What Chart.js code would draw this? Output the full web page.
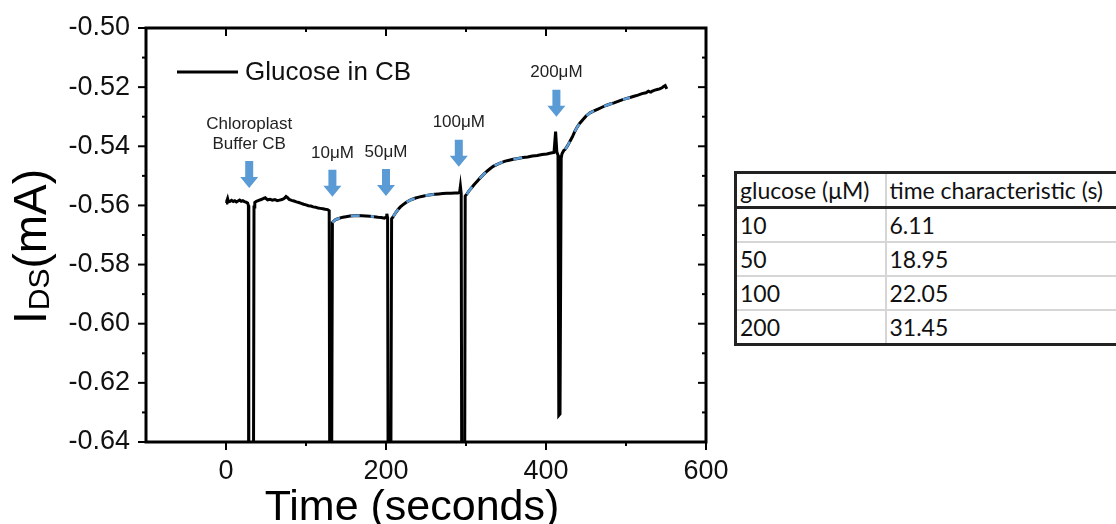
<!DOCTYPE html>
<html>
<head>
<meta charset="utf-8">
<script src="https://cdn.jsdelivr.net/npm/chart.js@4/dist/chart.umd.min.js"></script>
<style>
body { margin: 0; width: 1116px; height: 524px; overflow: hidden; background: #fff; position: relative; }
#wrap { position: absolute; left: 0; top: 0; width: 730px; height: 524px; }
#tbl { position: absolute; left: 734px; top: 171px; width: 480px; border-collapse: collapse; table-layout: fixed;
       font-family: Lato, "Open Sans", sans-serif; font-size: 23px; color: #111; border: 3px solid #222; }
#tbl th, #tbl td { height: 32px; padding: 0 3px; text-align: left; font-weight: normal;
                   border: 2px solid #d6d6d6; white-space: nowrap; }
#tbl th { border-bottom: 3px solid #222; border-top: 3px solid #222; }
#tbl tr:last-child td { border-bottom: 3px solid #222; }
#tbl td:first-child, #tbl th:first-child { border-left: 3px solid #222; }
</style>
</head>
<body>
<div id="wrap"><canvas id="ids" width="730" height="524"></canvas></div>
<table id="tbl">
  <colgroup><col style="width:150px"><col style="width:330px"></colgroup>
  <thead><tr><th>glucose (μM)</th><th>time characteristic (s)</th></tr></thead>
  <tbody id="tbody"></tbody>
</table>
<script>
// drain current trace, time in seconds / I_DS in mA
const timeSec = [
  0, 1, 2, 3, 5, 7, 9, 11, 13, 15, 17, 19, 21, 23, 25, 27, 28, 28.5, 34, 35,
  36, 38, 41, 44, 47, 49, 52, 55, 58, 61, 64, 67, 70, 73, 75, 77, 79, 82, 85, 88,
  91, 94, 97, 100, 103, 106, 109, 112, 115, 118, 121, 124, 127, 129, 130, 131.5,
  133, 135, 137, 140, 143, 146, 150, 155, 160, 165, 170, 175, 180, 185, 190, 194, 198,
  200, 201, 202, 203, 205.5, 207, 209, 212, 215, 218, 221, 225, 229, 233, 237, 241,
  246, 251, 256, 261, 266, 271, 276, 281, 286, 290, 292, 293, 294, 295, 298, 299,
  301, 304, 307, 310, 314, 318, 322, 326, 330, 334, 339, 344, 349, 354, 359, 365,
  371, 377, 383, 389, 395, 401, 406, 410, 412, 413.5, 415, 416, 417.5, 419, 420,
  422, 424, 427, 430, 433, 436, 439, 442, 446, 450, 455, 460, 465, 470, 475, 480,
  485, 490, 495, 500, 505, 510, 515, 520, 525, 528, 531, 533, 536, 539, 542, 545,
  547, 549, 551
];
const currentMA = [
  -0.5592, -0.5585, -0.5577, -0.5588, -0.5586, -0.5583, -0.5587, -0.5584, -0.5588, -0.5585,
  -0.5582, -0.5586, -0.5584, -0.5587, -0.5589, -0.5592, -0.5600, -0.70, -0.70, -0.5605,
  -0.5590, -0.5586, -0.5583, -0.5580, -0.5576, -0.5574, -0.5581, -0.5579, -0.5582, -0.5580,
  -0.5584, -0.5582, -0.5580, -0.5576, -0.5570, -0.5574, -0.5580, -0.5583, -0.5585, -0.5588,
  -0.5590, -0.5593, -0.5596, -0.5598, -0.5601, -0.5602, -0.5605, -0.5606, -0.5609, -0.5610,
  -0.5611, -0.5613, -0.5614, -0.5618, -0.70, -0.70,
  -0.5658, -0.5652, -0.5648, -0.5645, -0.5642, -0.5640, -0.5638, -0.5636, -0.5635, -0.5634,
  -0.5635, -0.5636, -0.5637, -0.5638, -0.5640, -0.5641, -0.5643,
  -0.5640, -0.5628, -0.5642, -0.70, -0.70, -0.5645, -0.5638, -0.5625, -0.5614, -0.5605,
  -0.5598, -0.5590, -0.5584, -0.5579, -0.5575, -0.5572,
  -0.5569, -0.5566, -0.5564, -0.5562, -0.5561, -0.5560, -0.5559, -0.5559, -0.5558, -0.5558,
  -0.5556, -0.5535, -0.5560, -0.70, -0.70, -0.5568,
  -0.5562, -0.5550, -0.5540, -0.5530, -0.5518, -0.5506, -0.5495, -0.5485, -0.5476, -0.5468,
  -0.5461, -0.5455, -0.5450, -0.5447, -0.5444, -0.5441,
  -0.5438, -0.5436, -0.5433, -0.5431, -0.5428, -0.5426, -0.5423, -0.5421, -0.5350, -0.5418,
  -0.5430, -0.6310, -0.6305, -0.5440, -0.5425,
  -0.5415, -0.5410, -0.5398, -0.5383, -0.5368, -0.5350, -0.5335, -0.5323, -0.5310, -0.5298,
  -0.5287, -0.5280, -0.5274, -0.5268, -0.5262, -0.5257,
  -0.5253, -0.5248, -0.5243, -0.5239, -0.5235, -0.5231, -0.5227, -0.5222, -0.5219, -0.5214,
  -0.5217, -0.5213, -0.5210, -0.5208, -0.5206, -0.5202,
  -0.5198, -0.5195, -0.5206
];

// time windows covered by the exponential fits after each addition
const fitRanges = [[133, 186], [209, 266], [301, 372], [424, 508]];

// additions marked with arrows: time, current at arrow tip, label lines
const addTimes = [29, 133, 200, 291, 413];
const addTips = [-0.5541, -0.5571, -0.5568, -0.5469, -0.5300];
const addLabels = [['Chloroplast', 'Buffer CB'], ['10μM'], ['50μM'], ['100μM'], ['200μM']];

// table values
const glucoseUM = ['10', '50', '100', '200'];
const timeConst = ['6.11', '18.95', '22.05', '31.45'];

const yTicks = { min: -0.64, max: -0.50, step: 0.01 };
const xTicks = { min: -100, max: 600, step: 100 };

const BLUE = '#5b9bd5';
const FONT = '"Liberation Sans", Arial, sans-serif';

document.getElementById('tbody').innerHTML = glucoseUM
  .map((g, i) => `<tr><td>${g}</td><td>${timeConst[i]}</td></tr>`).join('');

const trace = timeSec.map((t, i) => ({ x: t, y: currentMA[i] }));
const fitSets = fitRanges.map(([a, b]) => ({
  data: trace.filter(p => p.x >= a && p.x <= b),
  borderColor: BLUE,
  borderWidth: 2.6,
  borderDash: [9, 11],
  pointRadius: 0,
  tension: 0,
  order: 0
}));

const isMajorX = v => v >= 0 && v % 200 === 0;
const isMajorY = v => Math.round(v * 100) % 2 === 0;

// frame, mirrored ticks, axis titles, legend and arrows
const decorations = {
  id: 'decorations',
  afterDraw(chart) {
    const { ctx, chartArea: a, scales: { x, y } } = chart;
    ctx.save();
    ctx.strokeStyle = '#000';
    ctx.lineCap = 'butt';

    const seg = (x1, y1, x2, y2) => { ctx.beginPath(); ctx.moveTo(x1, y1); ctx.lineTo(x2, y2); ctx.stroke(); };

    ctx.lineWidth = 2;
    x.ticks.forEach(t => {
      if (t.value <= xTicks.min) return;
      const px = x.getPixelForValue(t.value);
      const len = isMajorX(t.value) ? 8 : 4;
      seg(px, a.bottom, px, a.bottom + len);
      seg(px, a.top, px, a.top + len);
    });
    y.ticks.forEach(t => {
      const py = y.getPixelForValue(t.value);
      const len = isMajorY(t.value) ? 8 : 4;
      seg(a.left - len, py, a.left, py);
      seg(a.right - len, py, a.right, py);
    });

    ctx.lineWidth = 3;
    ctx.strokeRect(a.left, a.top, a.right - a.left, a.bottom - a.top);

    // x title
    ctx.fillStyle = '#000';
    ctx.font = `43px ${FONT}`;
    ctx.textAlign = 'center';
    ctx.textBaseline = 'alphabetic';
    ctx.fillText('Time (seconds)', (a.left + a.right) / 2 - 14, 520);

    // y title with subscript
    ctx.save();
    ctx.translate(46, (a.top + a.bottom) / 2 + 12);
    ctx.rotate(-Math.PI / 2);
    ctx.textAlign = 'left';
    ctx.font = `46px ${FONT}`;
    const wI = ctx.measureText('I').width;
    const wRest = ctx.measureText('(mA)').width;
    ctx.font = `30px ${FONT}`;
    const wDS = ctx.measureText('DS').width;
    let tx = -(wI + wDS + wRest) / 2;
    ctx.font = `46px ${FONT}`;
    ctx.fillText('I', tx, 0);
    tx += wI + 1;
    ctx.font = `30px ${FONT}`;
    ctx.fillText('DS', tx, 3);
    tx += wDS;
    ctx.font = `46px ${FONT}`;
    ctx.fillText('(mA)', tx, 0);
    ctx.restore();

    // legend
    ctx.lineWidth = 3;
    seg(177, 72, 238, 72);
    ctx.font = `26px ${FONT}`;
    ctx.textAlign = 'left';
    ctx.textBaseline = 'middle';
    ctx.fillStyle = '#111';
    ctx.fillText(chart.data.datasets[fitSets.length].label, 245, 73);

    // arrows at each addition
    addTimes.forEach((t, i) => {
      const ax = x.getPixelForValue(t);
      const tip = y.getPixelForValue(addTips[i]);
      const top = tip - 27;
      ctx.fillStyle = BLUE;
      ctx.beginPath();
      ctx.moveTo(ax - 4, top);
      ctx.lineTo(ax + 4, top);
      ctx.lineTo(ax + 4, tip - 11);
      ctx.lineTo(ax + 9, tip - 11);
      ctx.lineTo(ax, tip);
      ctx.lineTo(ax - 9, tip - 11);
      ctx.lineTo(ax - 4, tip - 11);
      ctx.closePath();
      ctx.fill();

      ctx.fillStyle = '#222';
      ctx.font = `17px ${FONT}`;
      ctx.textAlign = 'center';
      ctx.textBaseline = 'middle';
      const lines = addLabels[i];
      lines.forEach((s, k) => {
        ctx.fillText(s, ax, top - 17 - (lines.length - 1 - k) * 20);
      });
    });
    ctx.restore();
  }
};

const chart = new Chart(document.getElementById('ids'), {
  type: 'line',
  data: {
    datasets: [
      ...fitSets,
      {
        label: 'Glucose in CB',
        data: trace,
        borderColor: '#000',
        borderWidth: 3,
        pointRadius: 0,
        tension: 0,
        order: 1
      }
    ]
  },
  options: {
    responsive: false,
    animation: false,
    devicePixelRatio: 1,
    layout: { padding: { left: 0, right: 24, top: 28, bottom: 0 } },
    plugins: { legend: { display: false }, tooltip: { enabled: false } },
    scales: {
      x: {
        type: 'linear',
        min: xTicks.min, max: xTicks.max,
        grid: { display: false, drawTicks: false },
        border: { display: false },
        ticks: {
          stepSize: xTicks.step, autoSkip: false, maxRotation: 0, padding: 13,
          color: '#111', font: { family: FONT, size: 27 },
          callback: v => isMajorX(v) ? String(v) : ''
        },
        afterFit: s => { s.height = 82; s.paddingLeft = 0; s.paddingRight = 0; }
      },
      y: {
        min: yTicks.min, max: yTicks.max,
        grid: { display: false, drawTicks: false },
        border: { display: false },
        ticks: {
          stepSize: yTicks.step, autoSkip: false, padding: 16,
          color: '#111', font: { family: FONT, size: 27 },
          callback: v => isMajorY(v) ? v.toFixed(2) : ''
        },
        afterFit: s => { s.width = 146; s.paddingTop = 0; s.paddingBottom = 0; }
      }
    }
  },
  plugins: [decorations]
});
</script>
</body>
</html>
